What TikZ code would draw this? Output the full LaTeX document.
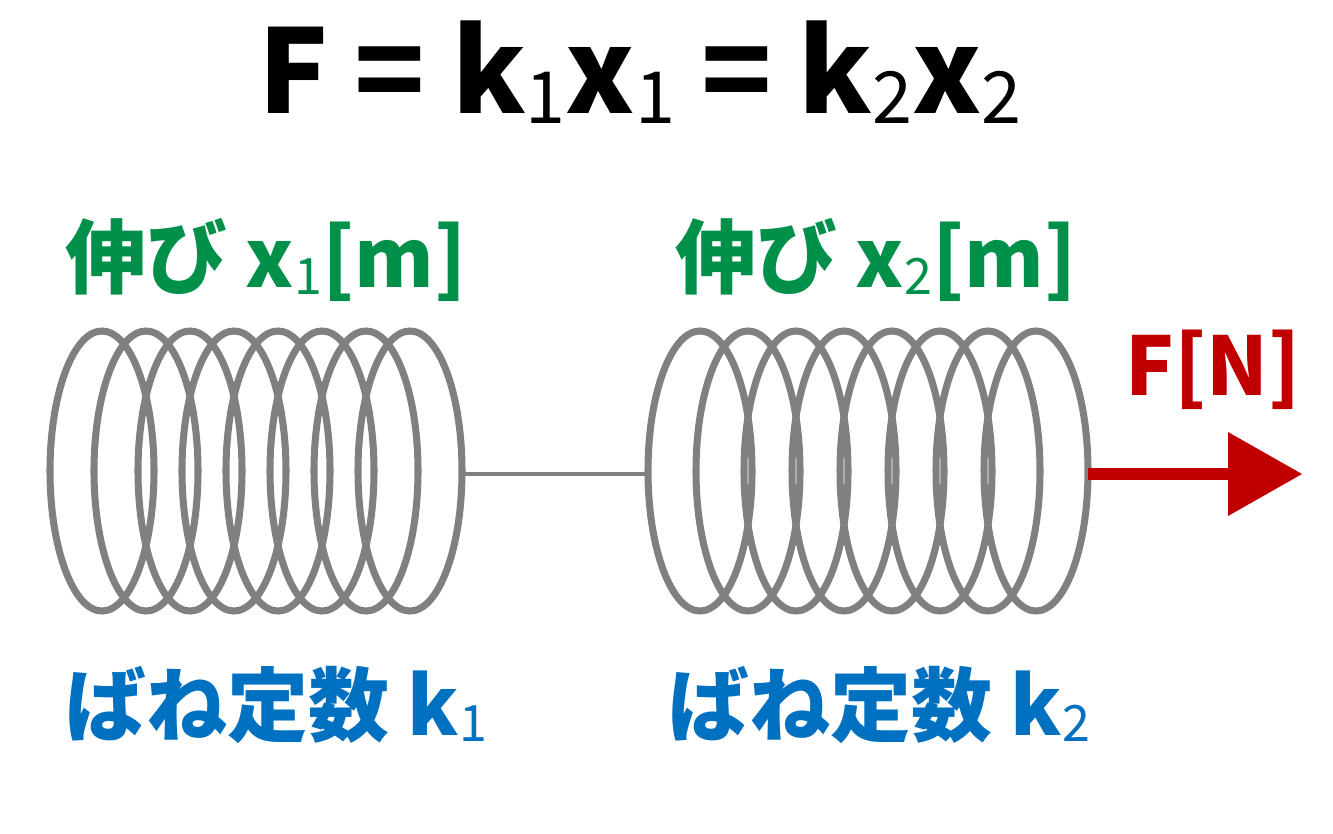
\documentclass[tikz,border=0pt]{standalone}
\usepackage{fontspec}
\setmainfont{Noto Sans CJK JP}
\definecolor{springgray}{HTML}{808080}
\definecolor{extgreen}{HTML}{00904A}
\definecolor{constblue}{HTML}{0070C0}
\definecolor{forcered}{HTML}{C00000}
\newcommand{\sub}[1]{\raisebox{-0.08em}{\fontsize{0.62em}{0.7em}\selectfont\mdseries #1}}
\tikzset{
    coil/.style={draw=springgray, line width=2pt},
    label/.style={font=\fontsize{23}{26}\selectfont\bfseries, anchor=west, inner sep=0pt}
}
\begin{document}
\begin{tikzpicture}[x=0.01cm,y=-0.01cm]
    \useasboundingbox (0,0) rectangle (1333,833);
    \node (formula) [font=\fontsize{33}{40}\selectfont\bfseries] at (640,72) {F = k\sub{1}x\sub{1} = k\sub{2}x\sub{2}};
    % left spring
    \foreach \i in {0,...,7}
        \draw [coil] (102+\i*44,471) ellipse [x radius=52, y radius=140];
    % right spring
    \foreach \i in {0,...,7}
        \draw [coil] (700+\i*48,471) ellipse [x radius=52, y radius=140];
    \coordinate (s1_end) at (462,474);
    \coordinate (s2_start) at (648,474);
    \coordinate (s2_end) at (1088,474);
    \coordinate (pull) at (1302,474);
    \draw [springgray, line width=1.4pt] (s1_end) -- (s2_start);
    \draw [forcered, line width=3.4pt] (s2_end) -- (1230,474);
    \fill [forcered] (1228,432) -- (pull) -- (1228,516) -- cycle;
    \node (ext1) [label, text=extgreen] at (65,260) {伸び x\sub{1}[m]};
    \node (ext2) [label, text=extgreen] at (675,260) {伸び x\sub{2}[m]};
    \node (k1) [label, text=constblue] at (65,705) {ばね定数 k\sub{1}};
    \node (k2) [label, text=constblue] at (668,705) {ばね定数 k\sub{2}};
    \node (force) [label, text=forcered] at (1125,370) {F[N]};
\end{tikzpicture}
\end{document}
